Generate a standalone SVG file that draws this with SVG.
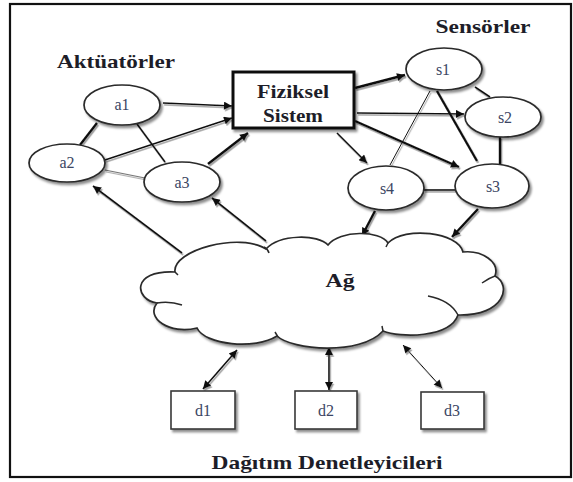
<svg xmlns="http://www.w3.org/2000/svg" width="573" height="482" viewBox="0 0 573 482">
<defs>
<style>
.nd{fill:#fff;stroke:#2a2a2a;stroke-width:1.7;filter:url(#sh)}
.bx{fill:#fff;stroke:#3a3a3a;stroke-width:1.6;filter:url(#sh)}
.lb{font-family:'Liberation Serif','DejaVu Serif',serif;font-size:16px;fill:#3b4663;text-anchor:middle}
.tt{font-family:'Liberation Serif','DejaVu Serif',serif;font-size:19px;font-weight:bold;fill:#1d1d28;text-anchor:middle}
.c{stroke:#111;stroke-width:1.6;fill:none}
.tk{stroke-width:2.4}
.tn{stroke-width:1}
.gr{stroke:#777;stroke-width:1.1}
.ar{marker-end:url(#ah)}
.ar2{marker-end:url(#ah);marker-start:url(#ah)}
</style>
<filter id="sh" x="-20%" y="-20%" width="150%" height="150%">
<feDropShadow dx="2" dy="2.5" stdDeviation="1.3" flood-color="#000" flood-opacity="0.45"/>
</filter>
<filter id="lsh" x="-20%" y="-20%" width="140%" height="140%">
<feDropShadow dx="1.2" dy="1.8" stdDeviation="0.5" flood-color="#888" flood-opacity="0.8"/>
</filter>
<marker id="ah" viewBox="0 0 10 10" refX="10" refY="5" markerWidth="10" markerHeight="8" markerUnits="userSpaceOnUse" orient="auto-start-reverse">
<path d="M0,0 L10,5 L0,10 z" fill="#111"/>
</marker>
</defs>
<rect x="0" y="0" width="573" height="482" fill="#fff"/>
<rect x="10" y="4" width="561" height="473" fill="none" stroke="#111" stroke-width="2.2"/>

<text class="tt" x="116" y="68" textLength="118" lengthAdjust="spacingAndGlyphs" font-family="Liberation Serif, serif">Aktüatörler</text>
<text class="tt" x="483" y="33" textLength="95" lengthAdjust="spacingAndGlyphs" font-family="Liberation Serif, serif">Sensörler</text>
<text class="tt" x="327" y="469" textLength="231" lengthAdjust="spacingAndGlyphs" font-family="Liberation Serif, serif">Dağıtım Denetleyicileri</text>

<g id="connectors" filter="url(#lsh)">
<line class="c ar" x1="163" y1="103" x2="232" y2="106"/>
<line class="c ar" x1="105" y1="160" x2="232" y2="118"/>
<line class="c ar tk" x1="208" y1="164" x2="248" y2="133"/>
<line class="c tk" x1="97" y1="123" x2="80" y2="145"/>
<line class="c" x1="137" y1="124" x2="165" y2="162"/>
<line class="c gr" x1="105" y1="170" x2="145" y2="178"/>
<line class="c ar tk" x1="355" y1="88" x2="405" y2="75"/>
<line class="c ar" x1="357" y1="113" x2="464" y2="114"/>
<line class="c ar tk" x1="355" y1="121" x2="459" y2="167"/>
<line class="c ar" x1="337" y1="133" x2="367" y2="163"/>
<line class="c" x1="475" y1="87" x2="490" y2="97"/>
<line class="c tk" x1="437" y1="91" x2="477" y2="161"/>
<line class="c tn" x1="430" y1="91" x2="390" y2="165"/>
<line class="c tk" x1="500" y1="137" x2="500" y2="164"/>
<line class="c" x1="424" y1="190" x2="455" y2="190"/>
<line class="c ar tk" x1="375" y1="211" x2="362" y2="236"/>
<line class="c ar tk" x1="478" y1="209" x2="452" y2="237"/>
<line class="c ar" x1="182" y1="253" x2="93" y2="186"/>
<line class="c ar" x1="266" y1="241" x2="212" y2="198"/>
<line class="c ar2" x1="237" y1="350" x2="203" y2="389"/>
<line class="c ar2" x1="329" y1="347" x2="329" y2="390"/>
<line class="c ar2 tn" x1="403" y1="345" x2="442" y2="388"/>
</g>

<g id="a1"><ellipse class="nd" cx="122" cy="105" rx="38" ry="20"/><text class="lb" x="122" y="110" font-family="Liberation Serif, serif">a1</text></g>
<g id="a2"><ellipse class="nd" cx="67" cy="163" rx="38" ry="19"/><text class="lb" x="67" y="168" font-family="Liberation Serif, serif">a2</text></g>
<g id="a3"><ellipse class="nd" cx="182" cy="182" rx="38" ry="20"/><text class="lb" x="182" y="188" font-family="Liberation Serif, serif">a3</text></g>
<g id="fiziksel"><rect x="233" y="72" width="121" height="56" fill="#fff" stroke="#111" stroke-width="3" filter="url(#sh)"/>
<text class="tt" x="293" y="98" textLength="72" lengthAdjust="spacingAndGlyphs" font-family="Liberation Serif, serif">Fiziksel</text>
<text class="tt" x="293" y="122" textLength="60" lengthAdjust="spacingAndGlyphs" font-family="Liberation Serif, serif">Sistem</text></g>
<g id="s1"><ellipse class="nd" cx="444" cy="69" rx="38" ry="21"/><text class="lb" x="443" y="75" font-family="Liberation Serif, serif">s1</text></g>
<g id="s2"><ellipse class="nd" cx="503" cy="117" rx="38" ry="20"/><text class="lb" x="505" y="123" font-family="Liberation Serif, serif">s2</text></g>
<g id="s3"><ellipse class="nd" cx="492" cy="186" rx="37" ry="22"/><text class="lb" x="493" y="192" font-family="Liberation Serif, serif">s3</text></g>
<g id="s4"><ellipse class="nd" cx="386" cy="188" rx="38" ry="22"/><text class="lb" x="387" y="194" font-family="Liberation Serif, serif">s4</text></g>

<g id="ag">
<path class="nd" d="M175,272 C172,250 240,232 266,249 C280,234 318,234 328,245 C340,230 380,230 388,243 C405,226 458,232 463,252 C482,250 500,262 495,276 C512,285 505,316 458,315 C450,338 400,338 383,331 C360,356 292,350 277,336 C255,350 205,345 197,328 C170,335 145,318 157,303 C135,300 130,270 175,272 Z"/>
<path fill="none" stroke="#2a2a2a" stroke-width="1.5" d="M157,303 Q170,301 182,305 M264,247 Q268,249 269,253 M388,243 l-2,4 M482,283 Q489,278 495,276 M428,296 Q450,300 458,315 M382,326 l1,5 M275,332 l3,5 M175,272 l3,3"/>
<text class="tt" x="340" y="287" textLength="29" lengthAdjust="spacingAndGlyphs" font-family="Liberation Serif, serif">Ağ</text>
</g>

<g id="d1"><rect class="bx" x="171" y="391" width="64" height="38"/><text class="lb" x="203" y="416" font-family="Liberation Serif, serif">d1</text></g>
<g id="d2"><rect class="bx" x="295" y="391" width="62" height="38"/><text class="lb" x="326" y="416" font-family="Liberation Serif, serif">d2</text></g>
<g id="d3"><rect class="bx" x="421" y="392" width="63" height="37"/><text class="lb" x="452" y="416" font-family="Liberation Serif, serif">d3</text></g>
</svg>
